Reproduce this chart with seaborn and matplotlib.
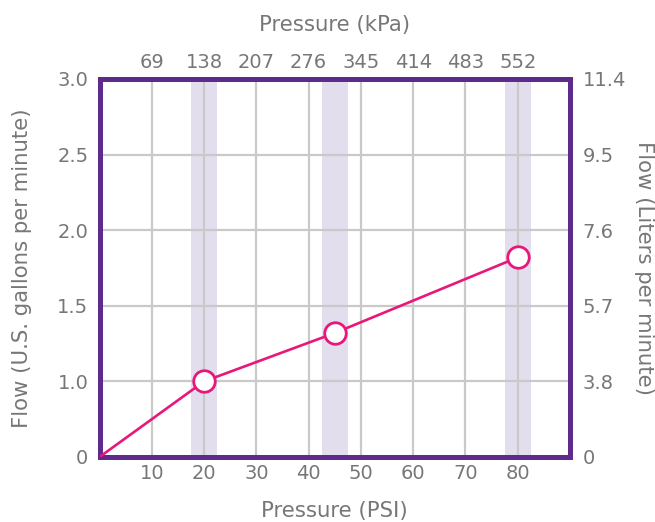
import numpy as np
import pandas as pd
import matplotlib
matplotlib.use("Agg")
import matplotlib.pyplot as plt
import seaborn as sns

# ---- data ----
pressure_psi = [0, 20, 45, 80]
flow_gpm = [0.0, 1.0, 1.32, 1.82]
highlight_psi = [20, 45, 80]

psi_ticks = [10, 20, 30, 40, 50, 60, 70, 80]
kpa_labels = ["69", "138", "207", "276", "345", "414", "483", "552"]
gpm_ticks = [0, 1.0, 1.5, 2.0, 2.5, 3.0]
gpm_labels = ["0", "1.0", "1.5", "2.0", "2.5", "3.0"]
lpm_labels = ["0", "3.8", "5.7", "7.6", "9.5", "11.4"]

PURPLE = "#5f2a8b"
MAGENTA = "#e8177a"
BAND = "#e3deed"
GRID = "#c9c9c9"
TEXT = "#777777"

sns.set_theme(style="white")
plt.rcParams["font.family"] = ["DejaVu Sans"]
plt.rcParams["text.color"] = TEXT
plt.rcParams["axes.labelcolor"] = TEXT
plt.rcParams["xtick.color"] = TEXT
plt.rcParams["ytick.color"] = TEXT

def fwd(y):
    y = np.asarray(y, dtype=float)
    return np.where(y <= 1, y, 1 + (y - 1) * 2)

def inv(p):
    p = np.asarray(p, dtype=float)
    return np.where(p <= 1, p, 1 + (p - 1) / 2)

fig = plt.figure(figsize=(6.55, 5.22), dpi=100)
ax = fig.add_axes([99.5 / 655, 1 - 457 / 522, (570 - 99.5) / 655, (457 - 79) / 522])
ax.set_yscale("function", functions=(fwd, inv))

df = pd.DataFrame({"psi": pressure_psi, "gpm": flow_gpm})

for c in highlight_psi:
    ax.axvspan(c - 2.5, c + 2.5, color=BAND, zorder=0, lw=0)

sns.lineplot(data=df, x="psi", y="gpm", ax=ax, color=MAGENTA, lw=1.9, zorder=3)
pts = df[df["psi"].isin(highlight_psi)]
sns.scatterplot(data=pts, x="psi", y="gpm", ax=ax, s=240, facecolor="white",
                edgecolor=MAGENTA, linewidth=2.0, zorder=4)

ax.set_xlim(0, 90)
ax.set_ylim(0, 3.0)
ax.set_xticks(psi_ticks)
ax.set_xticklabels([str(t) for t in psi_ticks])
ax.set_yticks(gpm_ticks)
ax.set_yticklabels(gpm_labels)
ax.set_axisbelow(True)
ax.grid(True, color=GRID, lw=1.6)
ax.tick_params(axis="both", length=0, labelsize=14)
ax.tick_params(axis="x", pad=5)
ax.tick_params(axis="y", pad=8)
ax.set_xlabel("Pressure (PSI)", fontsize=15.3, labelpad=13)
ax.set_ylabel("Flow (U.S. gallons per minute)", fontsize=15.3, labelpad=18)

for s in ax.spines.values():
    s.set_color(PURPLE)
    s.set_linewidth(3.6)
    s.set_visible(True)

# top axis (kPa)
axt = ax.twiny()
axt.set_xlim(ax.get_xlim())
axt.set_xticks(psi_ticks)
axt.set_xticklabels(kpa_labels)
axt.tick_params(axis="x", length=0, labelsize=14, pad=5, colors=TEXT)
axt.set_xlabel("Pressure (kPa)", fontsize=15.3, labelpad=16)
for s in axt.spines.values():
    s.set_visible(False)

# right axis (L/min)
axr = ax.twinx()
axr.set_yscale("function", functions=(fwd, inv))
axr.set_ylim(ax.get_ylim())
axr.set_yticks(gpm_ticks)
axr.set_yticklabels(lpm_labels)
axr.tick_params(axis="y", length=0, labelsize=14, pad=9, colors=TEXT)
axr.set_ylabel("Flow (Liters per minute)", fontsize=15.3, rotation=-90, labelpad=20)
axr.grid(False)
for s in axr.spines.values():
    s.set_visible(False)

fig.savefig("out.png", dpi=100)
